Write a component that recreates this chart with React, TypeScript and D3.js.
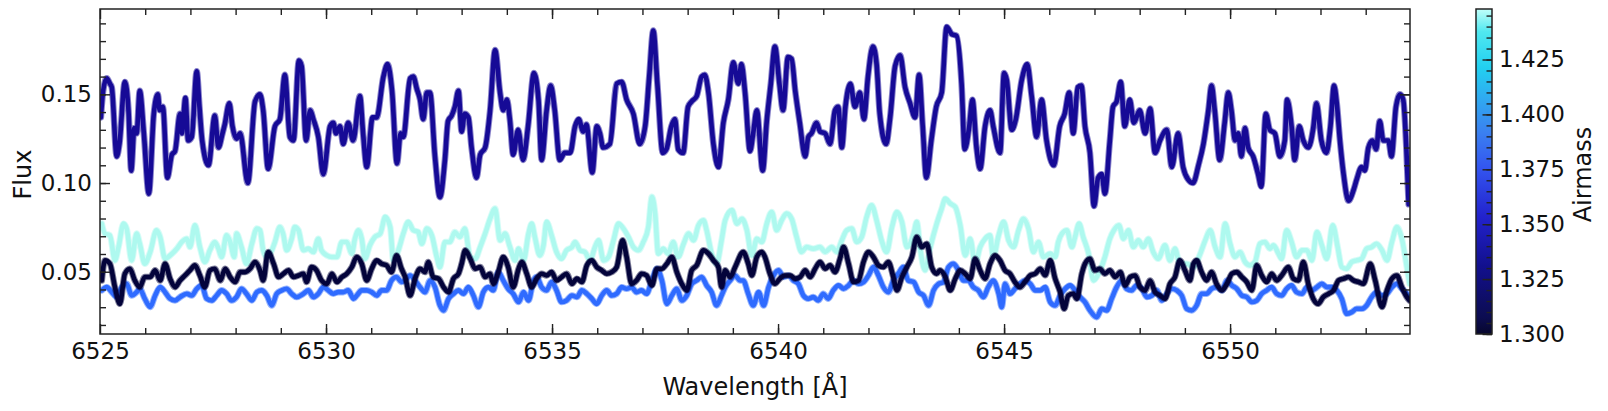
import React, { useEffect, useRef } from 'react';
import * as d3 from 'd3';

// spectra: [wavelength (Å), flux]
const navySpec = [[6525.02,0.137],[6525.07,0.152],[6525.15,0.159],[6525.22,0.156],[6525.26,0.154],[6525.37,0.115],[6525.43,0.122],[6525.55,0.157],[6525.63,0.141],[6525.69,0.107],[6525.76,0.131],[6525.81,0.128],[6525.88,0.152],[6525.97,0.128],[6526.08,0.094],[6526.19,0.139],[6526.28,0.150],[6526.32,0.141],[6526.39,0.143],[6526.49,0.103],[6526.59,0.116],[6526.66,0.118],[6526.77,0.139],[6526.81,0.128],[6526.89,0.148],[6526.95,0.124],[6527.03,0.126],[6527.14,0.163],[6527.20,0.143],[6527.26,0.124],[6527.40,0.110],[6527.54,0.138],[6527.62,0.120],[6527.71,0.128],[6527.76,0.133],[6527.86,0.145],[6527.93,0.132],[6528.02,0.125],[6528.10,0.128],[6528.27,0.100],[6528.43,0.146],[6528.54,0.150],[6528.61,0.141],[6528.72,0.108],[6528.87,0.132],[6528.98,0.136],[6529.09,0.161],[6529.20,0.126],[6529.28,0.124],[6529.40,0.169],[6529.46,0.166],[6529.56,0.124],[6529.65,0.141],[6529.72,0.136],[6529.83,0.126],[6529.94,0.105],[6530.09,0.132],[6530.16,0.134],[6530.22,0.128],[6530.31,0.132],[6530.38,0.122],[6530.49,0.134],[6530.60,0.124],[6530.75,0.149],[6530.82,0.128],[6530.90,0.109],[6531.03,0.137],[6531.12,0.137],[6531.27,0.160],[6531.36,0.167],[6531.46,0.152],[6531.57,0.111],[6531.65,0.128],[6531.71,0.126],[6531.86,0.159],[6531.93,0.160],[6532.01,0.153],[6532.08,0.147],[6532.15,0.136],[6532.23,0.151],[6532.30,0.151],[6532.41,0.115],[6532.52,0.092],[6532.63,0.113],[6532.70,0.135],[6532.78,0.138],[6532.85,0.143],[6532.93,0.152],[6533.00,0.129],[6533.07,0.139],[6533.15,0.137],[6533.22,0.120],[6533.33,0.103],[6533.41,0.116],[6533.52,0.120],[6533.63,0.141],[6533.74,0.175],[6533.85,0.151],[6533.92,0.141],[6534.00,0.147],[6534.07,0.135],[6534.14,0.116],[6534.25,0.130],[6534.36,0.113],[6534.47,0.132],[6534.60,0.162],[6534.70,0.147],[6534.77,0.113],[6534.88,0.141],[6534.97,0.155],[6535.06,0.141],[6535.17,0.113],[6535.28,0.117],[6535.40,0.117],[6535.51,0.132],[6535.59,0.136],[6535.69,0.129],[6535.76,0.133],[6535.89,0.106],[6535.99,0.132],[6536.06,0.128],[6536.13,0.120],[6536.28,0.122],[6536.43,0.156],[6536.54,0.157],[6536.65,0.147],[6536.80,0.139],[6536.94,0.122],[6537.06,0.132],[6537.15,0.160],[6537.24,0.186],[6537.33,0.156],[6537.45,0.117],[6537.53,0.119],[6537.64,0.132],[6537.72,0.136],[6537.79,0.119],[6537.90,0.117],[6538.01,0.143],[6538.09,0.146],[6538.20,0.149],[6538.31,0.160],[6538.38,0.161],[6538.46,0.151],[6538.57,0.122],[6538.68,0.109],[6538.79,0.134],[6538.90,0.147],[6539.01,0.168],[6539.12,0.156],[6539.19,0.167],[6539.27,0.151],[6539.38,0.118],[6539.45,0.128],[6539.53,0.141],[6539.66,0.107],[6539.75,0.135],[6539.84,0.156],[6539.93,0.177],[6540.03,0.156],[6540.11,0.141],[6540.22,0.171],[6540.30,0.170],[6540.38,0.152],[6540.48,0.134],[6540.60,0.115],[6540.67,0.126],[6540.74,0.128],[6540.85,0.134],[6540.93,0.129],[6541.04,0.128],[6541.15,0.122],[6541.26,0.141],[6541.33,0.143],[6541.41,0.120],[6541.49,0.143],[6541.60,0.156],[6541.70,0.143],[6541.81,0.151],[6541.90,0.136],[6541.99,0.160],[6542.10,0.177],[6542.18,0.167],[6542.25,0.139],[6542.39,0.122],[6542.48,0.137],[6542.59,0.166],[6542.70,0.172],[6542.81,0.154],[6542.92,0.145],[6543.03,0.137],[6543.12,0.161],[6543.20,0.132],[6543.28,0.103],[6543.39,0.124],[6543.50,0.143],[6543.62,0.151],[6543.73,0.188],[6543.84,0.184],[6543.95,0.183],[6544.06,0.156],[6544.13,0.119],[6544.23,0.132],[6544.30,0.147],[6544.39,0.120],[6544.47,0.108],[6544.58,0.132],[6544.69,0.141],[6544.76,0.132],[6544.91,0.117],[6545.00,0.162],[6545.06,0.158],[6545.17,0.130],[6545.26,0.136],[6545.39,0.158],[6545.51,0.167],[6545.61,0.149],[6545.72,0.126],[6545.83,0.147],[6545.94,0.124],[6546.10,0.110],[6546.23,0.132],[6546.34,0.139],[6546.44,0.151],[6546.53,0.128],[6546.63,0.154],[6546.71,0.155],[6546.79,0.132],[6546.90,0.117],[6546.99,0.087],[6547.08,0.103],[6547.16,0.105],[6547.23,0.094],[6547.34,0.124],[6547.41,0.143],[6547.49,0.146],[6547.58,0.157],[6547.67,0.132],[6547.78,0.147],[6547.87,0.134],[6548.00,0.141],[6548.12,0.128],[6548.23,0.142],[6548.34,0.117],[6548.45,0.124],[6548.60,0.130],[6548.71,0.109],[6548.85,0.128],[6548.96,0.109],[6549.07,0.102],[6549.18,0.100],[6549.30,0.110],[6549.41,0.122],[6549.52,0.141],[6549.59,0.155],[6549.66,0.141],[6549.77,0.113],[6549.88,0.134],[6549.96,0.151],[6550.03,0.141],[6550.11,0.124],[6550.18,0.128],[6550.25,0.115],[6550.33,0.131],[6550.40,0.120],[6550.51,0.115],[6550.62,0.105],[6550.69,0.098],[6550.79,0.139],[6550.88,0.130],[6550.99,0.128],[6551.10,0.115],[6551.21,0.124],[6551.26,0.147],[6551.36,0.132],[6551.43,0.113],[6551.53,0.132],[6551.62,0.124],[6551.73,0.120],[6551.84,0.131],[6551.91,0.145],[6552.02,0.124],[6552.13,0.117],[6552.22,0.132],[6552.30,0.155],[6552.36,0.145],[6552.43,0.124],[6552.51,0.105],[6552.62,0.090],[6552.73,0.096],[6552.80,0.102],[6552.91,0.109],[6552.98,0.107],[6553.06,0.120],[6553.15,0.124],[6553.23,0.119],[6553.31,0.135],[6553.39,0.124],[6553.50,0.124],[6553.57,0.115],[6553.67,0.143],[6553.76,0.150],[6553.83,0.147],[6553.90,0.119],[6553.95,0.088]];

const cyanSpec = [[6525.04,0.0771],[6525.11,0.0715],[6525.22,0.0705],[6525.33,0.0564],[6525.41,0.0639],[6525.52,0.0771],[6525.59,0.0743],[6525.70,0.0564],[6525.81,0.0715],[6525.88,0.0658],[6525.99,0.0545],[6526.11,0.0611],[6526.25,0.0734],[6526.33,0.0696],[6526.44,0.0573],[6526.55,0.0592],[6526.70,0.0630],[6526.81,0.0668],[6526.92,0.0686],[6526.99,0.0639],[6527.10,0.0762],[6527.21,0.0639],[6527.32,0.0555],[6527.43,0.0621],[6527.54,0.0668],[6527.62,0.0630],[6527.69,0.0583],[6527.80,0.0705],[6527.88,0.0668],[6527.97,0.0583],[6528.02,0.0715],[6528.13,0.0639],[6528.24,0.0545],[6528.36,0.0658],[6528.47,0.0743],[6528.54,0.0734],[6528.61,0.0621],[6528.69,0.0583],[6528.80,0.0621],[6528.87,0.0668],[6528.98,0.0752],[6529.05,0.0715],[6529.13,0.0621],[6529.24,0.0686],[6529.31,0.0752],[6529.39,0.0734],[6529.50,0.0621],[6529.61,0.0630],[6529.72,0.0611],[6529.83,0.0686],[6529.90,0.0621],[6530.02,0.0592],[6530.13,0.0583],[6530.24,0.0583],[6530.35,0.0668],[6530.46,0.0668],[6530.57,0.0602],[6530.64,0.0686],[6530.72,0.0734],[6530.79,0.0686],[6530.86,0.0573],[6530.97,0.0649],[6531.08,0.0696],[6531.20,0.0715],[6531.31,0.0809],[6531.42,0.0752],[6531.49,0.0564],[6531.60,0.0621],[6531.71,0.0715],[6531.82,0.0781],[6531.93,0.0734],[6532.04,0.0724],[6532.12,0.0658],[6532.23,0.0743],[6532.34,0.0705],[6532.45,0.0583],[6532.52,0.0526],[6532.63,0.0668],[6532.74,0.0668],[6532.85,0.0724],[6532.96,0.0696],[6533.07,0.0743],[6533.19,0.0583],[6533.30,0.0573],[6533.41,0.0639],[6533.52,0.0715],[6533.63,0.0799],[6533.74,0.0856],[6533.85,0.0677],[6533.96,0.0715],[6534.07,0.0639],[6534.18,0.0564],[6534.26,0.0630],[6534.37,0.0564],[6534.48,0.0715],[6534.55,0.0771],[6534.62,0.0696],[6534.73,0.0592],[6534.81,0.0649],[6534.88,0.0781],[6534.99,0.0705],[6535.10,0.0611],[6535.21,0.0573],[6535.32,0.0621],[6535.44,0.0639],[6535.51,0.0668],[6535.62,0.0621],[6535.73,0.0611],[6535.84,0.0564],[6535.95,0.0639],[6536.03,0.0677],[6536.14,0.0564],[6536.25,0.0583],[6536.36,0.0677],[6536.47,0.0771],[6536.58,0.0743],[6536.69,0.0696],[6536.80,0.0639],[6536.91,0.0621],[6537.02,0.0668],[6537.13,0.0752],[6537.21,0.0922],[6537.28,0.0828],[6537.35,0.0602],[6537.46,0.0630],[6537.57,0.0602],[6537.68,0.0668],[6537.79,0.0583],[6537.91,0.0658],[6538.02,0.0715],[6538.13,0.0677],[6538.24,0.0762],[6538.35,0.0790],[6538.42,0.0734],[6538.53,0.0602],[6538.64,0.0545],[6538.75,0.0677],[6538.83,0.0790],[6538.98,0.0847],[6539.09,0.0771],[6539.20,0.0799],[6539.31,0.0734],[6539.42,0.0592],[6539.53,0.0686],[6539.64,0.0668],[6539.75,0.0771],[6539.86,0.0837],[6539.97,0.0734],[6540.08,0.0790],[6540.19,0.0828],[6540.30,0.0799],[6540.41,0.0696],[6540.52,0.0611],[6540.63,0.0639],[6540.78,0.0630],[6540.93,0.0639],[6541.04,0.0611],[6541.19,0.0639],[6541.30,0.0611],[6541.41,0.0677],[6541.52,0.0734],[6541.63,0.0743],[6541.74,0.0668],[6541.85,0.0696],[6541.96,0.0809],[6542.07,0.0875],[6542.18,0.0790],[6542.29,0.0677],[6542.40,0.0611],[6542.52,0.0752],[6542.63,0.0837],[6542.74,0.0781],[6542.85,0.0639],[6543.00,0.0715],[6543.07,0.0781],[6543.14,0.0639],[6543.25,0.0508],[6543.36,0.0630],[6543.51,0.0771],[6543.62,0.0856],[6543.70,0.0912],[6543.81,0.0884],[6543.92,0.0865],[6544.03,0.0762],[6544.14,0.0592],[6544.25,0.0686],[6544.36,0.0545],[6544.47,0.0639],[6544.58,0.0686],[6544.69,0.0705],[6544.76,0.0583],[6544.88,0.0705],[6544.99,0.0781],[6545.10,0.0677],[6545.21,0.0639],[6545.32,0.0734],[6545.43,0.0799],[6545.54,0.0743],[6545.65,0.0611],[6545.76,0.0668],[6545.87,0.0583],[6546.02,0.0602],[6546.13,0.0583],[6546.20,0.0668],[6546.28,0.0715],[6546.39,0.0734],[6546.50,0.0639],[6546.57,0.0696],[6546.66,0.0771],[6546.75,0.0696],[6546.87,0.0602],[6546.98,0.0451],[6547.09,0.0489],[6547.23,0.0583],[6547.34,0.0686],[6547.43,0.0734],[6547.54,0.0762],[6547.64,0.0686],[6547.75,0.0734],[6547.86,0.0639],[6547.97,0.0677],[6548.08,0.0639],[6548.19,0.0686],[6548.30,0.0611],[6548.41,0.0573],[6548.56,0.0649],[6548.67,0.0564],[6548.78,0.0630],[6548.89,0.0545],[6549.04,0.0545],[6549.19,0.0526],[6549.34,0.0602],[6549.45,0.0677],[6549.56,0.0734],[6549.67,0.0639],[6549.78,0.0583],[6549.89,0.0771],[6550.00,0.0658],[6550.11,0.0583],[6550.22,0.0611],[6550.33,0.0555],[6550.44,0.0536],[6550.55,0.0555],[6550.66,0.0658],[6550.77,0.0668],[6550.88,0.0630],[6550.96,0.0649],[6551.07,0.0602],[6551.14,0.0573],[6551.25,0.0734],[6551.36,0.0668],[6551.47,0.0583],[6551.59,0.0621],[6551.70,0.0621],[6551.81,0.0564],[6551.92,0.0724],[6552.03,0.0649],[6552.14,0.0573],[6552.27,0.0762],[6552.38,0.0639],[6552.47,0.0526],[6552.58,0.0517],[6552.69,0.0555],[6552.80,0.0564],[6552.91,0.0573],[6553.02,0.0630],[6553.13,0.0639],[6553.24,0.0658],[6553.36,0.0621],[6553.47,0.0564],[6553.58,0.0668],[6553.69,0.0752],[6553.80,0.0686],[6553.91,0.0526],[6553.97,0.0432]];

const blackSpec = [[6525.04,0.0451],[6525.11,0.0564],[6525.22,0.0545],[6525.33,0.0413],[6525.44,0.0319],[6525.55,0.0489],[6525.66,0.0517],[6525.77,0.0451],[6525.88,0.0413],[6525.99,0.0470],[6526.11,0.0470],[6526.22,0.0508],[6526.33,0.0451],[6526.44,0.0545],[6526.55,0.0461],[6526.66,0.0413],[6526.77,0.0451],[6526.88,0.0479],[6526.99,0.0508],[6527.10,0.0536],[6527.21,0.0479],[6527.32,0.0413],[6527.43,0.0508],[6527.54,0.0517],[6527.66,0.0451],[6527.77,0.0517],[6527.88,0.0470],[6527.99,0.0442],[6528.10,0.0498],[6528.21,0.0498],[6528.32,0.0517],[6528.43,0.0555],[6528.54,0.0508],[6528.61,0.0451],[6528.72,0.0611],[6528.84,0.0545],[6528.95,0.0470],[6529.06,0.0489],[6529.17,0.0508],[6529.28,0.0470],[6529.39,0.0479],[6529.50,0.0489],[6529.57,0.0442],[6529.68,0.0526],[6529.79,0.0508],[6529.90,0.0451],[6530.02,0.0432],[6530.13,0.0489],[6530.24,0.0442],[6530.35,0.0470],[6530.46,0.0489],[6530.57,0.0526],[6530.68,0.0583],[6530.79,0.0545],[6530.90,0.0451],[6531.01,0.0517],[6531.12,0.0564],[6531.23,0.0545],[6531.34,0.0536],[6531.45,0.0498],[6531.56,0.0592],[6531.67,0.0517],[6531.75,0.0470],[6531.86,0.0366],[6531.97,0.0461],[6532.08,0.0517],[6532.19,0.0498],[6532.26,0.0555],[6532.37,0.0470],[6532.49,0.0461],[6532.60,0.0413],[6532.71,0.0385],[6532.82,0.0461],[6532.93,0.0489],[6533.00,0.0545],[6533.08,0.0621],[6533.19,0.0573],[6533.30,0.0517],[6533.41,0.0526],[6533.52,0.0470],[6533.63,0.0489],[6533.70,0.0432],[6533.81,0.0498],[6533.92,0.0583],[6534.03,0.0526],[6534.14,0.0413],[6534.26,0.0517],[6534.33,0.0555],[6534.44,0.0489],[6534.55,0.0413],[6534.66,0.0461],[6534.77,0.0489],[6534.88,0.0479],[6534.99,0.0498],[6535.10,0.0451],[6535.21,0.0470],[6535.32,0.0489],[6535.44,0.0432],[6535.55,0.0461],[6535.66,0.0442],[6535.77,0.0536],[6535.88,0.0564],[6535.99,0.0526],[6536.10,0.0508],[6536.21,0.0489],[6536.32,0.0498],[6536.43,0.0526],[6536.56,0.0677],[6536.65,0.0583],[6536.76,0.0432],[6536.87,0.0451],[6536.98,0.0489],[6537.09,0.0479],[6537.21,0.0423],[6537.32,0.0517],[6537.43,0.0517],[6537.54,0.0545],[6537.65,0.0583],[6537.76,0.0498],[6537.87,0.0432],[6537.98,0.0395],[6538.09,0.0508],[6538.20,0.0536],[6538.35,0.0621],[6538.46,0.0602],[6538.57,0.0564],[6538.68,0.0526],[6538.75,0.0413],[6538.83,0.0508],[6538.94,0.0470],[6539.05,0.0526],[6539.23,0.0611],[6539.34,0.0545],[6539.42,0.0479],[6539.53,0.0583],[6539.64,0.0611],[6539.71,0.0583],[6539.82,0.0489],[6539.93,0.0432],[6540.04,0.0461],[6540.15,0.0479],[6540.27,0.0479],[6540.38,0.0461],[6540.49,0.0470],[6540.60,0.0508],[6540.71,0.0470],[6540.82,0.0517],[6540.93,0.0555],[6541.04,0.0517],[6541.15,0.0536],[6541.26,0.0498],[6541.37,0.0573],[6541.45,0.0639],[6541.56,0.0545],[6541.67,0.0442],[6541.78,0.0451],[6541.89,0.0555],[6542.00,0.0611],[6542.11,0.0583],[6542.22,0.0536],[6542.33,0.0526],[6542.44,0.0555],[6542.55,0.0470],[6542.63,0.0395],[6542.74,0.0470],[6542.85,0.0526],[6542.96,0.0583],[6543.07,0.0696],[6543.18,0.0639],[6543.29,0.0658],[6543.40,0.0526],[6543.51,0.0489],[6543.58,0.0508],[6543.70,0.0470],[6543.81,0.0395],[6543.92,0.0461],[6544.03,0.0508],[6544.14,0.0489],[6544.25,0.0461],[6544.36,0.0573],[6544.47,0.0508],[6544.58,0.0461],[6544.69,0.0545],[6544.80,0.0592],[6544.91,0.0564],[6545.02,0.0508],[6545.13,0.0489],[6545.24,0.0442],[6545.35,0.0413],[6545.46,0.0442],[6545.58,0.0479],[6545.69,0.0489],[6545.80,0.0517],[6545.91,0.0480],[6546.02,0.0564],[6546.13,0.0461],[6546.24,0.0385],[6546.33,0.0291],[6546.42,0.0366],[6546.53,0.0376],[6546.61,0.0348],[6546.72,0.0489],[6546.79,0.0545],[6546.90,0.0573],[6547.01,0.0508],[6547.12,0.0517],[6547.23,0.0489],[6547.34,0.0508],[6547.46,0.0470],[6547.57,0.0498],[6547.68,0.0423],[6547.79,0.0470],[6547.90,0.0479],[6548.01,0.0413],[6548.12,0.0395],[6548.23,0.0451],[6548.34,0.0385],[6548.45,0.0366],[6548.56,0.0348],[6548.67,0.0432],[6548.78,0.0470],[6548.89,0.0564],[6549.00,0.0508],[6549.11,0.0451],[6549.19,0.0545],[6549.26,0.0564],[6549.37,0.0498],[6549.48,0.0451],[6549.59,0.0498],[6549.70,0.0432],[6549.82,0.0395],[6549.93,0.0432],[6550.04,0.0489],[6550.15,0.0498],[6550.26,0.0470],[6550.37,0.0442],[6550.48,0.0395],[6550.59,0.0536],[6550.70,0.0479],[6550.81,0.0442],[6550.92,0.0489],[6551.03,0.0451],[6551.14,0.0479],[6551.29,0.0526],[6551.40,0.0461],[6551.51,0.0451],[6551.62,0.0555],[6551.73,0.0432],[6551.84,0.0348],[6551.95,0.0319],[6552.06,0.0357],[6552.18,0.0376],[6552.29,0.0395],[6552.40,0.0451],[6552.51,0.0461],[6552.62,0.0470],[6552.73,0.0451],[6552.84,0.0442],[6552.95,0.0432],[6553.10,0.0545],[6553.21,0.0451],[6553.36,0.0301],[6553.47,0.0395],[6553.58,0.0461],[6553.69,0.0479],[6553.80,0.0413],[6553.91,0.0357],[6553.97,0.0338]];

const blueSpec = [[6525.04,0.0395],[6525.15,0.0413],[6525.26,0.0385],[6525.37,0.0357],[6525.48,0.0413],[6525.59,0.0432],[6525.70,0.0366],[6525.81,0.0385],[6525.88,0.0404],[6525.99,0.0348],[6526.11,0.0301],[6526.22,0.0366],[6526.33,0.0413],[6526.44,0.0385],[6526.55,0.0348],[6526.66,0.0338],[6526.77,0.0357],[6526.92,0.0376],[6527.03,0.0366],[6527.14,0.0404],[6527.25,0.0423],[6527.36,0.0348],[6527.47,0.0338],[6527.58,0.0366],[6527.69,0.0395],[6527.80,0.0376],[6527.91,0.0338],[6528.02,0.0357],[6528.13,0.0404],[6528.24,0.0376],[6528.36,0.0338],[6528.47,0.0385],[6528.58,0.0395],[6528.69,0.0366],[6528.80,0.0310],[6528.91,0.0376],[6529.02,0.0395],[6529.13,0.0404],[6529.24,0.0376],[6529.35,0.0357],[6529.50,0.0376],[6529.61,0.0395],[6529.72,0.0357],[6529.83,0.0376],[6529.94,0.0413],[6530.05,0.0395],[6530.16,0.0376],[6530.27,0.0385],[6530.38,0.0385],[6530.49,0.0395],[6530.61,0.0348],[6530.68,0.0366],[6530.79,0.0395],[6530.90,0.0395],[6531.01,0.0385],[6531.12,0.0366],[6531.23,0.0395],[6531.34,0.0395],[6531.45,0.0451],[6531.56,0.0470],[6531.67,0.0442],[6531.75,0.0451],[6531.86,0.0479],[6531.97,0.0451],[6532.08,0.0413],[6532.19,0.0385],[6532.30,0.0451],[6532.41,0.0413],[6532.52,0.0310],[6532.60,0.0282],[6532.71,0.0348],[6532.82,0.0376],[6532.93,0.0395],[6533.04,0.0376],[6533.15,0.0413],[6533.26,0.0366],[6533.37,0.0301],[6533.48,0.0385],[6533.59,0.0413],[6533.70,0.0395],[6533.81,0.0498],[6533.92,0.0451],[6534.03,0.0404],[6534.14,0.0376],[6534.26,0.0329],[6534.37,0.0385],[6534.48,0.0338],[6534.59,0.0451],[6534.66,0.0470],[6534.77,0.0413],[6534.88,0.0395],[6534.99,0.0442],[6535.10,0.0395],[6535.21,0.0329],[6535.32,0.0338],[6535.44,0.0366],[6535.55,0.0357],[6535.66,0.0395],[6535.77,0.0376],[6535.88,0.0348],[6535.99,0.0319],[6536.10,0.0366],[6536.21,0.0395],[6536.32,0.0366],[6536.43,0.0376],[6536.54,0.0413],[6536.65,0.0404],[6536.76,0.0413],[6536.87,0.0385],[6536.98,0.0395],[6537.09,0.0376],[6537.21,0.0451],[6537.32,0.0517],[6537.43,0.0451],[6537.54,0.0319],[6537.65,0.0366],[6537.76,0.0404],[6537.87,0.0338],[6537.98,0.0366],[6538.09,0.0432],[6538.20,0.0451],[6538.31,0.0470],[6538.42,0.0423],[6538.53,0.0385],[6538.64,0.0310],[6538.75,0.0366],[6538.83,0.0413],[6538.94,0.0451],[6539.05,0.0479],[6539.16,0.0451],[6539.23,0.0451],[6539.34,0.0376],[6539.45,0.0310],[6539.57,0.0385],[6539.68,0.0310],[6539.79,0.0413],[6539.90,0.0479],[6540.01,0.0508],[6540.12,0.0470],[6540.23,0.0479],[6540.34,0.0451],[6540.45,0.0432],[6540.56,0.0366],[6540.67,0.0348],[6540.78,0.0357],[6540.89,0.0338],[6541.00,0.0376],[6541.11,0.0348],[6541.22,0.0395],[6541.34,0.0423],[6541.45,0.0404],[6541.56,0.0423],[6541.67,0.0451],[6541.78,0.0432],[6541.89,0.0442],[6542.00,0.0479],[6542.11,0.0526],[6542.22,0.0479],[6542.33,0.0413],[6542.44,0.0385],[6542.55,0.0451],[6542.66,0.0489],[6542.77,0.0526],[6542.88,0.0451],[6543.00,0.0442],[6543.11,0.0385],[6543.22,0.0366],[6543.33,0.0310],[6543.44,0.0395],[6543.55,0.0432],[6543.66,0.0442],[6543.77,0.0526],[6543.88,0.0545],[6543.99,0.0508],[6544.10,0.0451],[6544.21,0.0451],[6544.32,0.0413],[6544.43,0.0395],[6544.54,0.0357],[6544.65,0.0413],[6544.76,0.0451],[6544.88,0.0376],[6544.95,0.0300],[6545.02,0.0432],[6545.13,0.0376],[6545.24,0.0404],[6545.35,0.0432],[6545.46,0.0451],[6545.58,0.0432],[6545.69,0.0395],[6545.80,0.0395],[6545.91,0.0413],[6546.02,0.0329],[6546.13,0.0310],[6546.24,0.0366],[6546.35,0.0404],[6546.46,0.0423],[6546.57,0.0395],[6546.68,0.0357],[6546.79,0.0329],[6546.90,0.0282],[6547.05,0.0244],[6547.16,0.0291],[6547.27,0.0282],[6547.38,0.0348],[6547.49,0.0413],[6547.60,0.0451],[6547.71,0.0404],[6547.82,0.0395],[6547.93,0.0423],[6548.05,0.0404],[6548.16,0.0357],[6548.27,0.0366],[6548.38,0.0395],[6548.49,0.0338],[6548.60,0.0376],[6548.71,0.0404],[6548.82,0.0395],[6548.93,0.0366],[6549.04,0.0291],[6549.15,0.0282],[6549.26,0.0310],[6549.37,0.0376],[6549.48,0.0376],[6549.59,0.0404],[6549.70,0.0413],[6549.82,0.0395],[6549.93,0.0451],[6550.04,0.0423],[6550.15,0.0404],[6550.26,0.0366],[6550.37,0.0357],[6550.48,0.0329],[6550.59,0.0338],[6550.70,0.0376],[6550.81,0.0395],[6550.92,0.0413],[6551.03,0.0376],[6551.14,0.0366],[6551.25,0.0404],[6551.36,0.0423],[6551.47,0.0385],[6551.59,0.0376],[6551.70,0.0413],[6551.81,0.0395],[6551.92,0.0413],[6552.03,0.0432],[6552.14,0.0413],[6552.25,0.0413],[6552.36,0.0395],[6552.47,0.0348],[6552.58,0.0263],[6552.69,0.0272],[6552.80,0.0291],[6552.91,0.0291],[6553.02,0.0310],[6553.13,0.0357],[6553.24,0.0385],[6553.36,0.0366],[6553.47,0.0376],[6553.58,0.0413],[6553.69,0.0432],[6553.80,0.0404],[6553.91,0.0376],[6553.97,0.0348]];

const X_TICKS = [6525, 6530, 6535, 6540, 6545, 6550];
const Y_TICKS = [0.05, 0.10, 0.15];
const CB_TICKS = [1.300, 1.325, 1.350, 1.375, 1.400, 1.425];
const X_DOMAIN = [6525, 6553.98];
const Y_DOMAIN = [0.0149, 0.1981];
const AIRMASS_DOMAIN = [1.300, 1.448];

// colormap of the airmass colorbar, bottom to top
const CMAP_POS = [0, 0.05, 0.21, 0.36, 0.51, 0.62, 0.72, 0.82, 0.93, 1];
const CMAP_COL = ['#07072c', '#0c0c50', '#12108e', '#2222cc', '#3355f0', '#3a80f0', '#30a8f0', '#22d0f0', '#50e8f0', '#c0fffa'];

const FONT = 'DejaVu Sans, sans-serif';

function SpectraChart() {
  const svgRef = useRef<SVGSVGElement>(null);

  useEffect(() => {
    const W = 1608, H = 411;
    const box = { left: 100, top: 9, right: 1410, bottom: 334 };
    const cb = { left: 1476, right: 1492 };

    const svg = d3.select(svgRef.current);
    svg.selectAll('*').remove();
    svg.attr('width', W).attr('height', H).style('display', 'block');

    const x = d3.scaleLinear().domain(X_DOMAIN).range([box.left, box.right]);
    const y = d3.scaleLinear().domain(Y_DOMAIN).range([box.bottom, box.top]);
    const c = d3.scaleLinear().domain(AIRMASS_DOMAIN).range([box.bottom, box.top]);

    const defs = svg.append('defs');
    defs.append('clipPath').attr('id', 'plotclip')
      .append('rect')
      .attr('x', box.left).attr('y', box.top)
      .attr('width', box.right - box.left).attr('height', box.bottom - box.top);

    const grad = defs.append('linearGradient').attr('id', 'cmap')
      .attr('x1', 0).attr('y1', 1).attr('x2', 0).attr('y2', 0);
    CMAP_POS.forEach((p, i) => {
      grad.append('stop').attr('offset', p).attr('stop-color', CMAP_COL[i]);
    });

    // spectra, each drawn with a faint wider copy under it
    const series = [
      { data: blueSpec, color: '#2f6bff' },
      { data: cyanSpec, color: '#aef9ef' },
      { data: blackSpec, color: '#03033a' },
      { data: navySpec, color: '#160a96' },
    ];
    const line = d3.line<number[]>().x(d => x(d[0])).y(d => y(d[1])).curve(d3.curveMonotoneX);
    const g = svg.append('g').attr('clip-path', 'url(#plotclip)');
    series.forEach(s => {
      g.append('path').datum(s.data).attr('d', line)
        .attr('fill', 'none').attr('stroke', s.color)
        .attr('stroke-width', 6.5).attr('stroke-opacity', 0.5)
        .attr('stroke-linejoin', 'round').attr('stroke-linecap', 'round');
      g.append('path').datum(s.data).attr('d', line)
        .attr('fill', 'none').attr('stroke', s.color)
        .attr('stroke-width', 4.6)
        .attr('stroke-linejoin', 'round').attr('stroke-linecap', 'round');
    });

    const styleAxis = (sel: any) => {
      sel.select('.domain').remove();
      sel.selectAll('line').attr('stroke', '#222').attr('stroke-width', 1.4);
      sel.selectAll('text').attr('font-size', 23).attr('font-family', FONT).attr('fill', '#111');
    };
    const none = () => '';
    const xMinor = d3.range(6526, 6554, 1);

    // x axes (bottom with labels, top without), ticks pointing inwards
    svg.append('g').attr('transform', `translate(0,${box.bottom})`)
      .call(d3.axisBottom(x).tickValues(X_TICKS).tickFormat(d3.format('d')).tickSizeInner(-10).tickSizeOuter(0).tickPadding(9))
      .call(styleAxis);
    svg.append('g').attr('transform', `translate(0,${box.bottom})`)
      .call(d3.axisBottom(x).tickValues(xMinor).tickFormat(none).tickSizeInner(-6).tickSizeOuter(0))
      .call(styleAxis);
    svg.append('g').attr('transform', `translate(0,${box.top})`)
      .call(d3.axisTop(x).tickValues(X_TICKS).tickFormat(none).tickSizeInner(-10).tickSizeOuter(0))
      .call(styleAxis);
    svg.append('g').attr('transform', `translate(0,${box.top})`)
      .call(d3.axisTop(x).tickValues(xMinor).tickFormat(none).tickSizeInner(-6).tickSizeOuter(0))
      .call(styleAxis);

    // y axes
    const yMinor = d3.range(2, 20, 1).map(v => v / 100);
    svg.append('g').attr('transform', `translate(${box.left},0)`)
      .call(d3.axisLeft(y).tickValues(Y_TICKS).tickFormat(d3.format('.2f')).tickSizeInner(-10).tickSizeOuter(0).tickPadding(8))
      .call(styleAxis);
    svg.append('g').attr('transform', `translate(${box.left},0)`)
      .call(d3.axisLeft(y).tickValues(yMinor).tickFormat(none).tickSizeInner(-6).tickSizeOuter(0))
      .call(styleAxis);
    svg.append('g').attr('transform', `translate(${box.right},0)`)
      .call(d3.axisRight(y).tickValues(Y_TICKS).tickFormat(none).tickSizeInner(-10).tickSizeOuter(0))
      .call(styleAxis);
    svg.append('g').attr('transform', `translate(${box.right},0)`)
      .call(d3.axisRight(y).tickValues(yMinor).tickFormat(none).tickSizeInner(-6).tickSizeOuter(0))
      .call(styleAxis);

    // frame
    svg.append('rect')
      .attr('x', box.left).attr('y', box.top)
      .attr('width', box.right - box.left).attr('height', box.bottom - box.top)
      .attr('fill', 'none').attr('stroke', '#222').attr('stroke-width', 1.5);

    // axis labels
    svg.append('text')
      .attr('x', (box.left + box.right) / 2).attr('y', 395)
      .attr('text-anchor', 'middle')
      .attr('font-size', 24).attr('font-family', FONT).attr('fill', '#111')
      .text('Wavelength [Å]');
    svg.append('text')
      .attr('transform', `translate(31,${(box.top + box.bottom) / 2 + 3}) rotate(-90)`)
      .attr('text-anchor', 'middle')
      .attr('font-size', 24).attr('font-family', FONT).attr('fill', '#111')
      .text('Flux');

    // colorbar
    svg.append('rect')
      .attr('x', cb.left).attr('y', box.top)
      .attr('width', cb.right - cb.left).attr('height', box.bottom - box.top)
      .attr('fill', 'url(#cmap)');
    const cbMinor = d3.range(0, 30, 1).map(i => 1.3 + i * 0.005);
    svg.append('g').attr('transform', `translate(${cb.right},0)`)
      .call(d3.axisRight(c).tickValues(cbMinor).tickFormat(none).tickSizeInner(-5.5).tickSizeOuter(0))
      .call(styleAxis);
    svg.append('g').attr('transform', `translate(${cb.right},0)`)
      .call(d3.axisRight(c).tickValues(CB_TICKS).tickFormat(d3.format('.3f')).tickSizeInner(-9.5).tickSizeOuter(0).tickPadding(7))
      .call(styleAxis);
    svg.append('rect')
      .attr('x', cb.left).attr('y', box.top)
      .attr('width', cb.right - cb.left).attr('height', box.bottom - box.top)
      .attr('fill', 'none').attr('stroke', '#222').attr('stroke-width', 1.5);
    svg.append('text')
      .attr('transform', `translate(1591,${(box.top + box.bottom) / 2 + 3}) rotate(-90)`)
      .attr('text-anchor', 'middle')
      .attr('font-size', 24).attr('font-family', FONT).attr('fill', '#111')
      .text('Airmass');
  }, []);

  return <svg ref={svgRef}></svg>;
}

export default function App() {
  return (
    <div style={{ position: 'absolute', left: 0, top: 0, background: '#fff' }}>
      <SpectraChart />
    </div>
  );
}
